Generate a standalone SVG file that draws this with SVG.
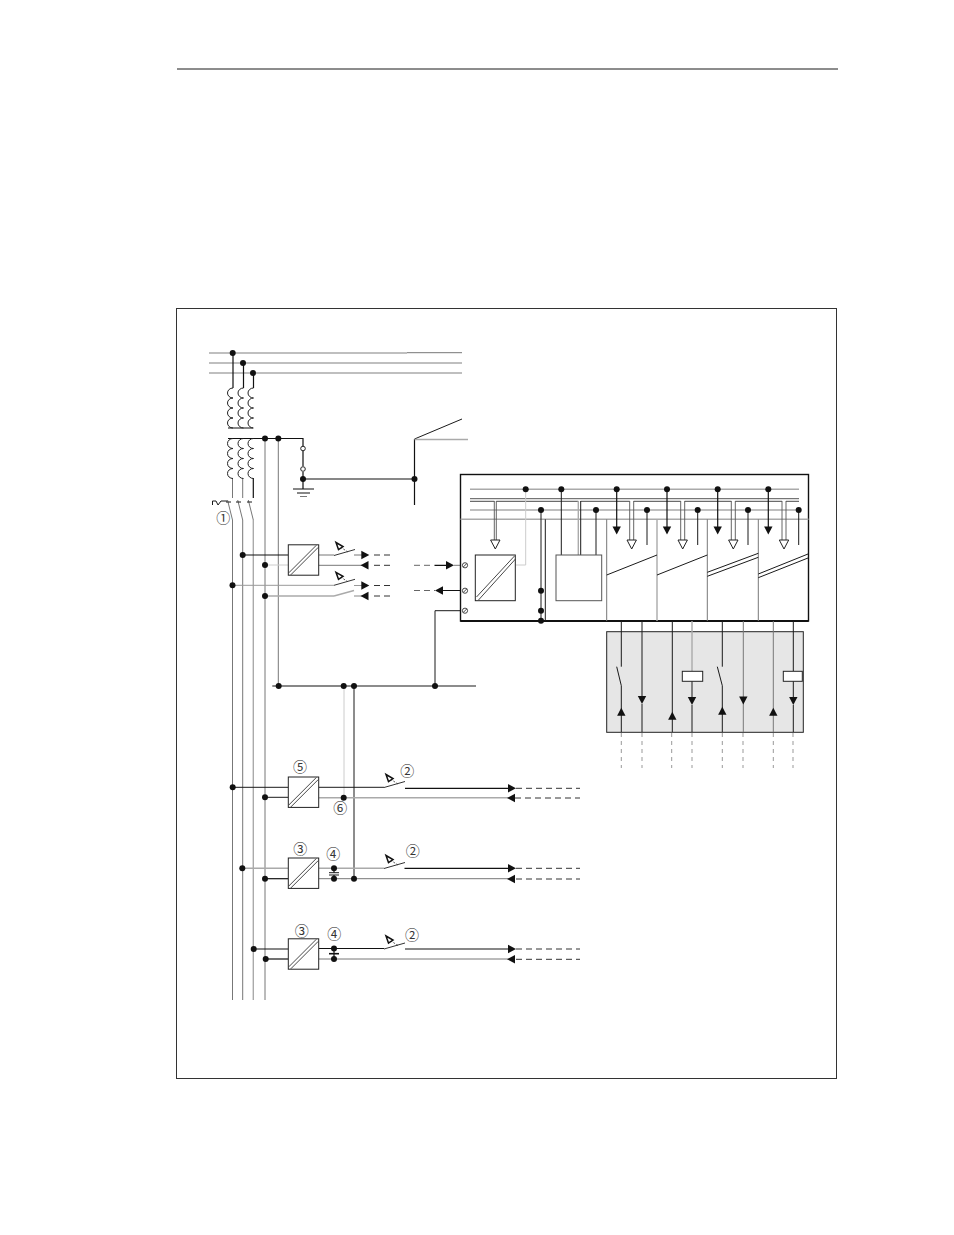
<svg xmlns="http://www.w3.org/2000/svg" width="954" height="1235" viewBox="0 0 954 1235">
<style>
.l{fill:none;stroke:#1a1a1a;stroke-width:1}
.b{fill:none;stroke:#111;stroke-width:1.2}
.g{fill:none;stroke:#777;stroke-width:1}
.h{fill:none;stroke:#aaa;stroke-width:1.4}
.p{fill:none;stroke:#ccc;stroke-width:1}
.d{fill:none;stroke:#333;stroke-width:1;stroke-dasharray:6 4}
.v{fill:none;stroke:#999;stroke-width:1;stroke-dasharray:4 4}
.t{font-family:"Noto Sans CJK JP","DejaVu Sans",sans-serif;font-size:14px;fill:#333;text-anchor:middle}
</style>
<defs>
<circle id="dot" r="3" fill="#111"/>
<path id="ar" d="M0 0L-8 -4.200L-8 4.200Z" fill="#111"/>
<path id="al" d="M0 0L8 -4.200L8 4.200Z" fill="#111"/>
<path id="ad" d="M0 0L-4.200 -8L4.200 -8Z" fill="#111"/>
<path id="au" d="M0 0L-4.200 8L4.200 8Z" fill="#111"/>
<path id="hollow" d="M-4.700 -9L4.700 -9L0 0Z" fill="#fff" stroke="#222" stroke-width="1"/>
<path id="coil" d="M0 0A5.500 5 0 0 0 0 10A5.500 5 0 0 0 0 20A5.500 5 0 0 0 0 30A5.500 5 0 0 0 0 40" fill="none" stroke="#222" stroke-width="1"/>
<g id="conv"><rect x="0" y="0" width="30.400" height="30.400" fill="#fff" stroke="#222" stroke-width="1"/><path d="M0.500 28L28 0.500M2.500 30L30 2.500" fill="none" stroke="#333" stroke-width="0.900"/></g>
<g id="sw"><path d="M0 0L21 -6" fill="none" stroke="#333" stroke-width="1"/><path d="M14 -3.500L7 -8" fill="none" stroke="#333" stroke-width="0.800" stroke-dasharray="2 1.500"/><path d="M2 -13L9 -9L4.500 -6Z" fill="#fff" stroke="#111" stroke-width="1.500"/></g>
<g id="term"><circle r="2.600" fill="#fff" stroke="#333" stroke-width="0.900"/><path d="M-1.800 1.800L1.800 -1.800" stroke="#333" stroke-width="0.900"/></g>
</defs>
<rect width="954" height="1235" fill="#fff"/>
<g id="page-rule"><path class="l" d="M177 69H838"/></g>
<g id="frame"><rect x="176.500" y="308.500" width="660" height="770" fill="#fff" stroke="#333" stroke-width="1"/></g>

<g id="connectors">
<path class="h" d="M209 353H407"/><path class="g" d="M407 352.700H462"/>
<path class="h" d="M209 363H462"/><path class="h" d="M209 373H462"/>
<path class="b" d="M233 353V388M243.500 363V388M253.500 373V388"/>
<path class="b" d="M228 428H253M228 438.500H303V448M303 451V466M303 472V489"/>
<path class="b" d="M303 479H414.500M414.500 439V505"/><path class="l" d="M414.500 439L462 419"/>
<path class="h" d="M414.500 439.500H468"/>
<path class="b" d="M293 489H314M297 493H310"/><path class="g" d="M300 496.500H307"/>
<path class="g" d="M232.500 478V498M242.700 478V498"/><path class="b" d="M253.300 478V498"/>
<path class="g" d="M232.500 520V1000M242.700 520V1000"/><path class="h" d="M253.300 520V1000"/>
<path class="g" d="M265 438.500V1000"/><path class="g" d="M278.300 438.500V686"/>
<path class="g" d="M227.500 500L232.500 520M237.700 500L242.700 520M248.300 500L253.300 520"/>
<path class="l" d="M226 502H231M236 502H241M247 502H252"/>
<path class="l" d="M212.500 505V501H216L218 505L221 501H227"/>
<path class="b" d="M242.700 555H288.300"/><path class="p" d="M265 565H288.300"/>
<path class="g" d="M318.700 555H334M354 555H362"/><path class="g" d="M318.700 565.300H362"/>
<path class="d" d="M374 555H391M374 565.300H391"/>
<path class="g" d="M232.500 585.300H334M354 585.500H362" style="stroke:#999"/><path class="h" d="M265 596H334"/><path class="h" d="M354 596H362"/>
<path class="d" d="M374 585.500H391M374 596H391"/>
<path class="d" d="M414 565.300H435M414 590.500H435" style="stroke:#666"/>
<path class="b" d="M435 565.300H447M443 590.500H461"/>
<path class="g" d="M454 565.300H462M468 565.300H475.300M468 590.700H475.300"/>
<path class="l" d="M435 686V610.700H461M468 610.700H541M515.300 590.700H541"/>
<path class="b" d="M272.300 686H345"/><path d="M345 686H476" fill="none" stroke="#666" stroke-width="1.400"/>
<path class="p" d="M344 686V797.700"/>
<path class="l" d="M354 686V878.700"/>
<path class="l" d="M232.700 787.300H288.300"/><path class="l" d="M265 797.300H288.300"/>
<path class="l" d="M318.700 787.300H384"/><path class="b" d="M405 788.300H510"/>
<path class="h" d="M318.700 797.700H510"/>
<path class="d" d="M516 788.300H580M515 798H580"/>
<path class="h" d="M242.300 868.300H288.300"/><path class="b" d="M265 878.700H288.300"/>
<path class="h" d="M318.700 868.300H384"/><path class="g" d="M318.700 878.700H510"/>
<path class="b" d="M404.500 868.300H510M334 868.300V872.700M334 875V878.700"/>
<path class="l" d="M329 872.700H339M329 875H339"/>
<path class="d" d="M516 868.300H580M516 879H580"/>
<path class="b" d="M253.700 949H288.300"/><path class="b" d="M265.700 959H288.300"/>
<path class="b" d="M318.700 948.500H384"/><path class="g" d="M318.700 959H510"/>
<path class="b" d="M405 949H510M334 949V959"/>
<path class="b" d="M329 953.700H339" style="stroke-width:1.600"/>
<path class="d" d="M516 949H580M516 959.300H580"/>
</g>

<g id="transformer-primary"><use href="#coil" x="233" y="388"/><use href="#coil" x="243.500" y="388"/><use href="#coil" x="253.500" y="388"/></g>
<g id="transformer-secondary"><use href="#coil" x="233" y="438.500"/><use href="#coil" x="243.500" y="438.500"/><use href="#coil" x="253.500" y="438.500"/></g>
<g id="fuse"><circle cx="303" cy="448.500" r="2.300" fill="#fff" stroke="#222"/><circle cx="303" cy="469" r="2.300" fill="#fff" stroke="#222"/></g>

<g id="converter-a"><use href="#conv" x="288.300" y="544.800"/></g>
<g id="switch-a1"><use href="#sw" x="334" y="555.500"/></g>
<g id="switch-a2"><use href="#sw" x="334" y="585.300"/></g>
<path d="M334 596L354 590.500" class="h"/>
<g id="arrows-a"><use href="#ar" x="369.300" y="555"/><use href="#al" x="360.500" y="565.300"/><use href="#ar" x="369.300" y="585.500"/><use href="#al" x="360.500" y="596"/><use href="#ar" x="454" y="565.300"/><use href="#al" x="435" y="590.500"/></g>

<g id="plc-rack">
<rect x="460.500" y="474.500" width="348" height="146.500" fill="#fff" stroke="#111" stroke-width="1.400"/>
<path d="M460.500 621H808.500" stroke="#111" stroke-width="2" fill="none"/>
<path class="h" d="M460.500 519.300H808.500"/>
<path class="h" d="M470 489.300H799"/>
<path d="M470 498.700H799" fill="none" stroke="#555" stroke-width="1"/>
<path d="M470 501.300H494.300M496.300 501.300H578.300M580.700 501.300H629.700M633.700 501.300H680.700M684.700 501.300H731.300M735.300 501.300H782M786 501.300H799" fill="none" stroke="#333" stroke-width="0.900"/>
<path class="h" d="M470 510H799"/>
<path class="g" d="M606.700 519.300V621M707.300 519.300V621M758.300 519.300V621"/><path class="h" d="M657 519.300V621"/>
<path class="l" d="M606.700 575L657 555M657 575L707.300 555M707.300 572.300L758.300 553.300M707.300 576.300L758.300 557.300M758.300 574L808 554M758.300 577.700L808 558"/>
<path d="M494.300 501V540M496.300 501V540M629.700 501V540M633.700 501V540M680.700 501V540M684.700 501V540M731.300 501V540M735.300 501V540M782 501V540M786 501V540" fill="none" stroke="#555" stroke-width="0.900"/>
<path class="b" d="M616.700 489.300V527M667 489.300V527M717.700 489.300V527M768.300 489.300V527"/>
<path class="l" d="M647 510V545M697.700 510V545M748 510V545M798.700 510V545"/>
<path class="l" d="M541 510V621M545.300 519.300V621"/>
<path class="p" d="M525.700 489.300V565H515.300"/>
</g>
<g id="rack-converter"><rect x="475.300" y="555" width="40" height="45.700" fill="#fff" stroke="#222"/><path d="M476.500 597L514.500 556M478.500 600L515.500 559" fill="none" stroke="#333" stroke-width="0.900"/></g>
<g id="cpu">
<path class="l" d="M561.300 489.300V555M596 510V555"/><path class="h" d="M578.300 501V555"/><path class="l" d="M580.700 501V555"/>
<rect x="556" y="555" width="45.700" height="45.700" fill="#fff" stroke="#555" stroke-width="1"/>
</g>
<g id="terminals"><use href="#term" x="465" y="565.300"/><use href="#term" x="465" y="590.700"/><use href="#term" x="465" y="610.700"/></g>
<g id="rack-arrows">
<use href="#hollow" x="495.300" y="549"/><use href="#hollow" x="631.700" y="549"/><use href="#hollow" x="682.700" y="549"/><use href="#hollow" x="733.300" y="549"/><use href="#hollow" x="784" y="549"/>
<use href="#ad" x="616.700" y="534.500"/><use href="#ad" x="667" y="534.500"/><use href="#ad" x="717.700" y="534.500"/><use href="#ad" x="768.300" y="534.500"/>
</g>

<g id="io-panel">
<rect x="606.700" y="631.700" width="196.600" height="100.600" fill="#e6e6e6" stroke="#222" stroke-width="1"/>
<path class="l" d="M621.300 621V666.700M616.700 666.700L621.300 685.700M621.300 685.700V732M642 621V696M642 704V732M672.300 621V732M722.300 621V666.700M717.300 666.700L722.300 685.700V732M793.300 621V671M793.300 681V697M793.300 705V732"/>
<path class="h" d="M692 621V671"/><path class="l" d="M692 681V697M692 705V732"/>
<path class="g" d="M743.300 621V732M773.300 621V732"/>
<rect x="682.300" y="671.300" width="20.400" height="10" fill="#fff" stroke="#222"/>
<rect x="783.300" y="671.300" width="19" height="10" fill="#fff" stroke="#222"/>
<use href="#au" x="621.300" y="707.700"/><use href="#ad" x="642" y="704"/><use href="#au" x="672.300" y="711.700"/><use href="#ad" x="692" y="705"/><use href="#au" x="722.300" y="706.700"/><use href="#ad" x="743.300" y="704.500"/><use href="#au" x="773.300" y="707.700"/><use href="#ad" x="793.300" y="705"/>
<path class="v" d="M621.300 733V768M642 733V768M671.700 733V768M692 733V768M722.300 733V768M743 733V768M773.300 733V768M793 733V768"/>
</g>

<g id="converter-5"><use href="#conv" x="288.300" y="777"/></g>
<g id="converter-3"><use href="#conv" x="288.300" y="858"/></g>
<g id="converter-3b"><use href="#conv" x="288.300" y="938.800"/></g>
<g id="switches"><use href="#sw" x="384" y="787.500"/><use href="#sw" x="384" y="868.500"/><use href="#sw" x="384" y="949"/></g>
<g id="row-arrows">
<use href="#ar" x="516" y="788.300"/><use href="#al" x="507" y="798"/><use href="#ar" x="516" y="868.300"/><use href="#al" x="507" y="879"/><use href="#ar" x="516" y="949"/><use href="#al" x="507" y="959.300"/>
</g>
<g id="labels" opacity="0.990">
<text class="t" x="223.300" y="522.700">①</text>
<text class="t" x="300" y="772.300">⑤</text><text class="t" x="407.300" y="776.300">②</text><text class="t" x="340.300" y="812.700">⑥</text>
<text class="t" x="300.300" y="854">③</text><text class="t" x="333.300" y="859.300">④</text><text class="t" x="412.700" y="856">②</text>
<text class="t" x="301.700" y="935.700">③</text><text class="t" x="334.300" y="939">④</text><text class="t" x="412" y="939.700">②</text>
</g>
<g id="junctions">
<use href="#dot" x="232.700" y="353"/><use href="#dot" x="243" y="363"/><use href="#dot" x="253" y="373"/>
<use href="#dot" x="265" y="438.500"/><use href="#dot" x="278.300" y="438.500"/><use href="#dot" x="303" y="479"/><use href="#dot" x="414.500" y="479"/>
<use href="#dot" x="242.700" y="555"/><use href="#dot" x="265" y="565"/><use href="#dot" x="232.500" y="585.300"/><use href="#dot" x="265" y="596"/>
<use href="#dot" x="525.700" y="489.300"/><use href="#dot" x="561.300" y="489.300"/><use href="#dot" x="616.700" y="489.300"/><use href="#dot" x="667" y="489.300"/><use href="#dot" x="717.700" y="489.300"/><use href="#dot" x="768.300" y="489.300"/>
<use href="#dot" x="541" y="510"/><use href="#dot" x="596" y="510"/><use href="#dot" x="647" y="510"/><use href="#dot" x="697.700" y="510"/><use href="#dot" x="748" y="510"/><use href="#dot" x="798.700" y="510"/>
<use href="#dot" x="541" y="590.700"/><use href="#dot" x="541" y="610.700"/><use href="#dot" x="541" y="620.700"/>
<use href="#dot" x="278.700" y="686"/><use href="#dot" x="343.700" y="686"/><use href="#dot" x="354" y="686"/><use href="#dot" x="435" y="686"/>
<use href="#dot" x="232.700" y="787.300"/><use href="#dot" x="265" y="797.300"/><use href="#dot" x="343.700" y="797.700"/>
<use href="#dot" x="242.300" y="868.300"/><use href="#dot" x="265" y="878.700"/><use href="#dot" x="334" y="868.300"/><use href="#dot" x="334" y="878.700"/><use href="#dot" x="354" y="878.700"/>
<use href="#dot" x="253.700" y="949"/><use href="#dot" x="265.700" y="959"/><use href="#dot" x="334" y="948.500"/><use href="#dot" x="334" y="959"/>
</g>
</svg>
